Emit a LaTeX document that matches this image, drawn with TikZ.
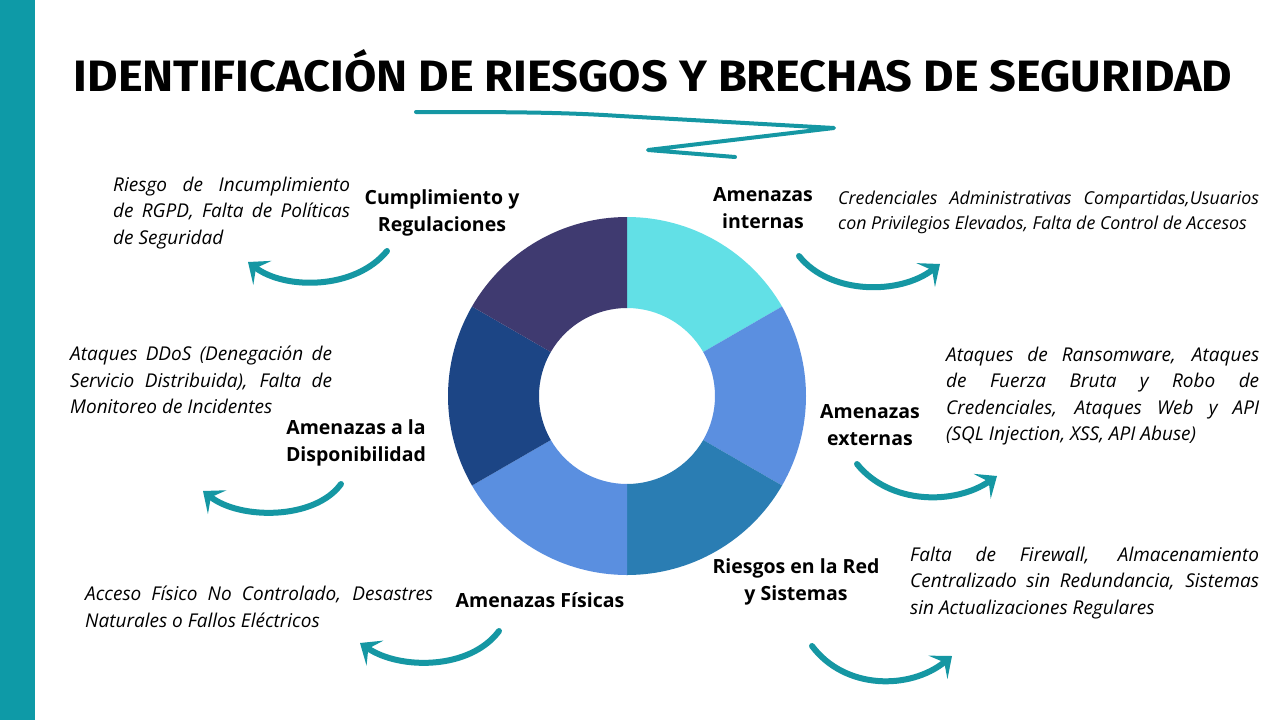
\documentclass[tikz,border=0pt]{standalone}
\usepackage{fontspec}
\setmainfont{Open Sans}
\newfontfamily\titlefont{Fira Sans}
\usetikzlibrary{arrows.meta,calc}
\definecolor{teal1}{HTML}{1597A3}
\definecolor{bar}{HTML}{0E9AA7}
\definecolor{cA}{HTML}{62E0E6}
\definecolor{cB}{HTML}{5B8FE0}
\definecolor{cC}{HTML}{2A7DB3}
\definecolor{cD}{HTML}{5A8FE0}
\definecolor{cE}{HTML}{1C4585}
\definecolor{cF}{HTML}{3F3A70}
\newcommand\jl[2]{\makebox[#1][s]{#2}\\}
\tikzset{
 desc/.style={font=\fontsize{19}{26.3}\selectfont\itshape, align=left, inner sep=0pt, anchor=north west},
 lab/.style={font=\fontsize{19.5}{27}\selectfont\bfseries, align=center, inner sep=0pt},
 swoop/.style={teal1, line width=6pt, line cap=round, -{Stealth[length=18pt,width=30pt,inset=8pt]}}
}
\begin{document}
\begin{tikzpicture}[x=1pt,y=-1pt]
\useasboundingbox (0,0) rectangle (1280,720);
\fill[white] (0,0) rectangle (1280,720);
\fill[bar] (0,0) rectangle (35,720);
\node[inner sep=0pt] (title) at (653,71) {\resizebox{1158pt}{42pt}{\titlefont\bfseries IDENTIFICACIÓN DE RIESGOS Y BRECHAS DE SEGURIDAD}};
\draw[teal1, line width=4pt, line cap=round, line join=round] (416,112) .. controls (500,112) and (560,112) .. (620,116) -- (834,128) -- (648,150) -- (735,157);
% donut
\coordinate (c) at (627,396);
\foreach \a/\col in {-90/cA,-30/cB,30/cC,90/cD,150/cE,210/cF}{
 \pgfmathsetmacro\b{\a+60}
 \fill[\col] ($(c)+(\a:179)$) arc[start angle=\a,end angle=\b,radius=179] -- ($(c)+(\b:88)$) arc[start angle=\b,end angle=\a,radius=88] -- cycle;
}
% labels
\node[lab] (cum) at (442,213) {Cumplimiento y\\Regulaciones};
\node[lab] (int) at (763,208) {Amenazas\\internas};
\node[lab] (dis) at (356,443) {Amenazas a la\\Disponibilidad};
\node[lab] (ext) at (870,425) {Amenazas\\externas};
\node[lab] (red) at (796,582) {Riesgos en la Red\\y Sistemas};
\node[lab] (fis) at (540,600) {Amenazas Físicas};
% descriptions
\node[desc] (d1) at (113,177) {\jl{237pt}{Riesgo de Incumplimiento}\jl{237pt}{de RGPD, Falta de Políticas}de Seguridad};
\node[desc, font=\fontsize{17.8}{24.5}\selectfont\itshape] (d2) at (838,191) {\jl{421pt}{Credenciales Administrativas Compartidas,Usuarios}con Privilegios Elevados, Falta de Control de Accesos};
\node[desc] (d3) at (70,346) {\jl{262pt}{Ataques DDoS (Denegación de}\jl{262pt}{Servicio Distribuida), Falta de}Monitoreo de Incidentes};
\node[desc] (d4) at (946,347) {\jl{313pt}{Ataques de Ransomware, Ataques}\jl{313pt}{de Fuerza Bruta y Robo de}\jl{313pt}{Credenciales, Ataques Web y API}(SQL Injection, XSS, API Abuse)};
\node[desc] (d5) at (910,547) {\jl{349pt}{Falta de Firewall, Almacenamiento}\jl{349pt}{Centralizado sin Redundancia, Sistemas}sin Actualizaciones Regulares};
\node[desc] (d6) at (85,586) {\jl{348pt}{Acceso Físico No Controlado, Desastres}Naturales o Fallos Eléctricos};
% arrows
\coordinate (a1s) at (387,251); \coordinate (a1e) at (248,262);
\draw[swoop] (a1s) .. controls (355,290) and (285,290) .. (a1e);
\coordinate (a2s) at (799,256); \coordinate (a2e) at (940,264);
\draw[swoop] (a2s) .. controls (830,295) and (900,295) .. (a2e);
\coordinate (a3s) at (341,484); \coordinate (a3e) at (203,491);
\draw[swoop] (a3s) .. controls (315,520) and (240,520) .. (a3e);
\coordinate (a4s) at (857,464); \coordinate (a4e) at (997,476);
\draw[swoop] (a4s) .. controls (890,505) and (955,505) .. (a4e);
\coordinate (a5s) at (499,631); \coordinate (a5e) at (360,643);
\draw[swoop] (a5s) .. controls (470,670) and (400,670) .. (a5e);
\coordinate (a6s) at (812,646); \coordinate (a6e) at (952,656);
\draw[swoop] (a6s) .. controls (845,690) and (910,690) .. (a6e);
\end{tikzpicture}
\end{document}
